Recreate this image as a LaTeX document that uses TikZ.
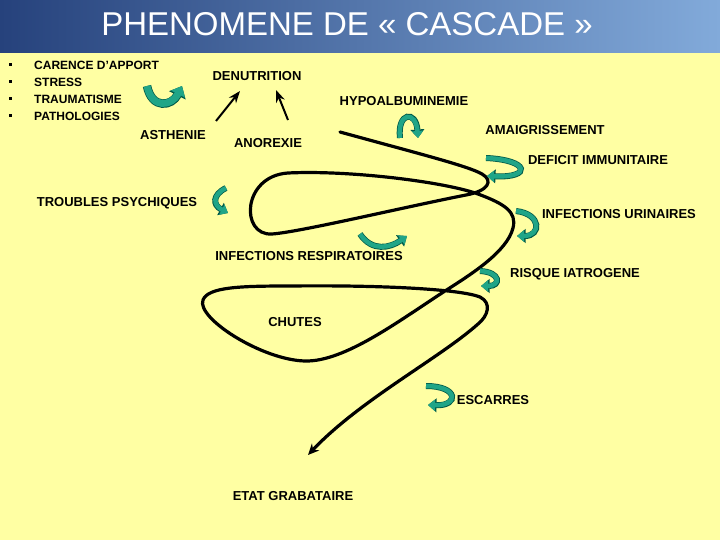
\documentclass[tikz,border=0pt]{standalone}
\usepackage{fontspec}
\setmainfont{Liberation Sans}
\usepackage{tikz}
\usetikzlibrary{calc,arrows.meta}

\definecolor{pagebg}{RGB}{255,255,163}
\definecolor{bandleft}{RGB}{38,66,124}
\definecolor{bandmid}{RGB}{62,98,158}
\definecolor{bandright}{RGB}{130,170,218}
\definecolor{turnfill}{RGB}{32,165,135}
\definecolor{turnedge}{RGB}{0,90,72}

\begin{document}
\begin{tikzpicture}[x=1pt, y=-1pt, >=Stealth,
    word/.style={font=\bfseries\fontsize{13}{14}\selectfont, inner sep=1pt},
    listitem/.style={font=\bfseries\fontsize{12}{13}\selectfont, inner sep=0pt, anchor=west},
    turn/.style={draw=turnfill, line width=4.5pt, -{Triangle[width=11pt,length=7pt]},
        preaction={draw=turnedge, line width=6pt, -{Triangle[width=13.5pt,length=8.5pt]}}},
    bigturn/.style={draw=turnfill, line width=7pt, -{Triangle[width=15pt,length=9pt]},
        preaction={draw=turnedge, line width=8.5pt, -{Triangle[width=18pt,length=10.5pt]}}},
    cascade/.style={line width=3.2pt, line cap=round, line join=round, -{Stealth[length=11pt,width=10pt]}},
    pointer/.style={->, line width=2pt}]

        % Draw background and title band
        \fill[pagebg] (0,0) rectangle (720,540);
        \shade[left color=bandleft, middle color=bandmid, right color=bandright] (0,0) rectangle (720,53);
        \node[font=\fontsize{33}{36}\selectfont, text=white] (title) at (347,24) {PHENOMENE DE « CASCADE »};

        % Draw list of causes
        \foreach \y in {65,82,99,116}
            \fill (8.5,\y-1.5) rectangle ++(3,3);
        \node[listitem] (l1) at (34,65) {CARENCE D'APPORT};
        \node[listitem] (l2) at (34,82) {STRESS};
        \node[listitem] (l3) at (34,99) {TRAUMATISME};
        \node[listitem] (l4) at (34,116) {PATHOLOGIES};

        % Draw labels
        \node[word] (denut) at (257,76) {DENUTRITION};
        \node[word] (hypo) at (404,101) {HYPOALBUMINEMIE};
        \node[word] (asth) at (173,135) {ASTHENIE};
        \node[word] (anor) at (268,143) {ANOREXIE};
        \node[word] (amai) at (545,130) {AMAIGRISSEMENT};
        \node[word] (defic) at (598,160) {DEFICIT IMMUNITAIRE};
        \node[word] (psych) at (117,203) {TROUBLES PSYCHIQUES};
        \node[word] (urin) at (619,214) {INFECTIONS URINAIRES};
        \node[word] (resp) at (309,256) {INFECTIONS RESPIRATOIRES};
        \node[word] (iatro) at (575,274) {RISQUE IATROGENE};
        \node[word] (chutes) at (295,322) {CHUTES};
        \node[word] (escar) at (493,400) {ESCARRES};
        \node[word] (grab) at (293,496) {ETAT GRABATAIRE};

        % Draw arrows towards denutrition
        \draw[pointer] ($(asth)+(43,-14)$) -- ($(denut)+(-17,15)$);
        \draw[pointer] ($(anor)+(20,-23)$) -- ($(denut)+(19,14)$);

        % Draw the cascade
        \draw[cascade] (340,132)
            .. controls (420,154) and (468,166) .. (482,174)
            .. controls (494,181) and (488,191) .. (466,195)
            .. controls (400,208) and (300,232) .. (272,234)
            .. controls (240,236) and (242,176) .. (288,173)
            .. controls (350,170) and (445,182) .. (478,194)
            .. controls (505,204) and (517,212) .. (513,228)
            .. controls (507,252) and (470,275) .. (445,291)
            .. controls (400,320) and (345,362) .. (305,361)
            .. controls (262,360) and (196,318) .. (203,300)
            .. controls (208,287) and (240,286) .. (290,286)
            .. controls (380,285) and (460,289) .. (480,297)
            .. controls (492,303) and (488,316) .. (478,324)
            .. controls (440,358) and (360,400) .. (308,455);

        % Draw turning arrows
        \draw[bigturn] (147,86) .. controls (152,110) and (172,106) .. (182,86);
        \draw[turn] (400,138) .. controls (397,112) and (416,110) .. (418,138);
        \draw[turn] (486,158) .. controls (530,160) and (532,178) .. (487,176);
        \draw[turn] (516,211) .. controls (542,214) and (541,236) .. (517,236);
        \draw[turn] (480,271) .. controls (501,272) and (501,286) .. (481,286);
        \draw[turn] (426,386) .. controls (459,386) and (459,406) .. (428,405);
        \draw[turn] (226,188) .. controls (212,195) and (213,205) .. (228,213);
        \draw[turn] (360,234) .. controls (372,252) and (390,248) .. (407,236);
    \end{tikzpicture}
\end{document}
